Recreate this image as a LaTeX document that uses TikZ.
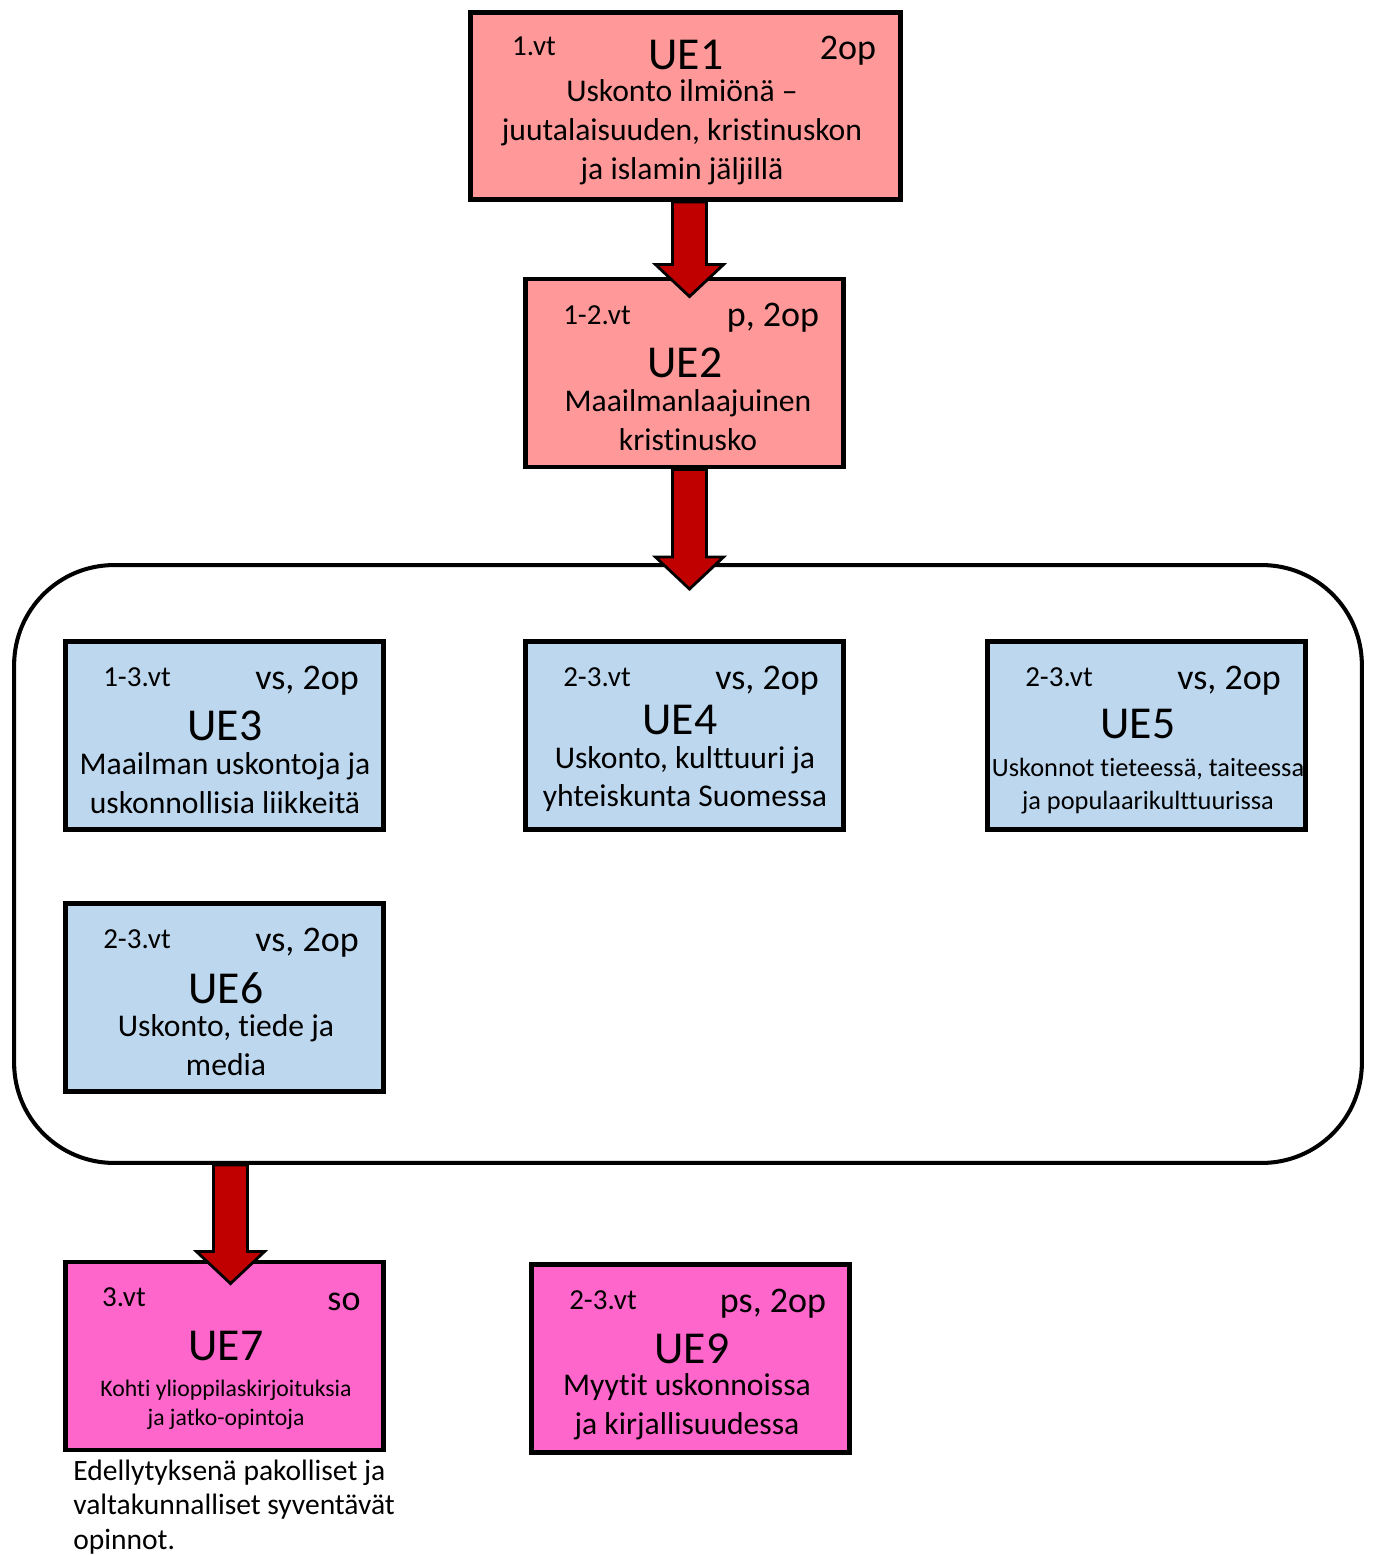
\documentclass[tikz,border=0pt]{standalone}
\usepackage{fontspec}
\setmainfont{Carlito}[Ligatures=NoCommon]
\usepackage{tikz}
\usetikzlibrary{calc}
\usetikzlibrary{positioning}
\definecolor{uered}{RGB}{255,153,153}
\definecolor{ueblue}{RGB}{189,215,238}
\definecolor{uepink}{RGB}{255,102,204}
\definecolor{arrowred}{RGB}{192,0,0}

% block arrow from #1 (top of shaft) to #2 (tip)
\newcommand{\blockarrow}[2]{%
  \filldraw[arrowbody] ($(#1)+(-17,0)$) -- ($(#2)+(-17,-32)$) -- ($(#2)+(-34,-32)$)
    -- (#2) -- ($(#2)+(34,-32)$) -- ($(#2)+(17,-32)$) -- ($(#1)+(17,0)$) -- cycle;}

\begin{document}
\begin{tikzpicture}[x=0.02cm,y=-0.02cm,
    box/.style={draw,line width=2.8pt,minimum width=6.36cm,minimum height=3.76cm,inner sep=0},
    redbox/.style={box,fill=uered},
    bluebox/.style={box,fill=ueblue},
    pinkbox/.style={box,fill=uepink},
    arrowbody/.style={fill=arrowred,draw=black,line width=1.6pt,line join=miter},
    title/.style={inner sep=0,font=\fontsize{26}{31}\selectfont},
    sem/.style={inner sep=0,font=\fontsize{16.5}{19}\selectfont},
    op/.style={inner sep=0,font=\fontsize{20.5}{24}\selectfont},
    body/.style={inner sep=0,align=center,font=\fontsize{18}{22.1}\selectfont}]
  \useasboundingbox (0,0) rectangle (1373,1555);

  % group of optional courses
  \node[draw,line width=2.3pt,rounded corners=2cm,minimum width=26.96cm,minimum height=11.96cm] (group) at (688,864) {};

  % UE1
  \node[redbox,minimum width=8.6cm,minimum height=3.74cm] (ue1) at (685.5,106) {};
  \node[sem] (ue1s) at (534,46) {1.vt};
  \node[title] (ue1t) at (686,55) {UE1};
  \node[op] (ue1o) at (848,51) {2op};
  \node[body] (ue1b) at (682,132) {Uskonto ilmiönä –\\juutalaisuuden, kristinuskon\\ja islamin jäljillä};

  % UE2
  \node[redbox] (ue2) at (684.5,373) {};
  \node[sem] (ue2s) at (597,315) {1-2.vt};
  \node[op] (ue2o) at (773,318) {p, 2op};
  \node[title] (ue2t) at (685,363) {UE2};
  \node[body] (ue2b) at (688,420) {Maailmanlaajuinen\\kristinusko};

  % UE3
  \node[bluebox] (ue3) at (224.5,735.5) {};
  \node[sem] (ue3s) at (137,677) {1-3.vt};
  \node[op] (ue3o) at (307,681) {vs, 2op};
  \node[title] (ue3t) at (225,726) {UE3};
  \node[body] (ue3b) at (225,783) {Maailman uskontoja ja\\uskonnollisia liikkeitä};

  % UE4
  \node[bluebox] (ue4) at (684.5,735.5) {};
  \node[sem] (ue4s) at (597,677) {2-3.vt};
  \node[op] (ue4o) at (767,681) {vs, 2op};
  \node[title] (ue4t) at (680,720) {UE4};
  \node[body] (ue4b) at (685,779) {Uskonto, kulttuuri ja\\yhteiskunta Suomessa};

  % UE5
  \node[bluebox] (ue5) at (1146.5,735.5) {};
  \node[sem] (ue5s) at (1059,677) {2-3.vt};
  \node[op] (ue5o) at (1229,681) {vs, 2op};
  \node[title] (ue5t) at (1138,724) {UE5};
  \node[body,font=\fontsize{15}{18.7}\selectfont] (ue5b) at (1148,786) {Uskonnot tieteessä, taiteessa\\ja populaarikulttuurissa};

  % UE6
  \node[bluebox] (ue6) at (224.5,997.5) {};
  \node[sem] (ue6s) at (137,939) {2-3.vt};
  \node[op] (ue6o) at (307,943) {vs, 2op};
  \node[title] (ue6t) at (226,988) {UE6};
  \node[body] (ue6b) at (226,1045) {Uskonto, tiede ja\\media};

  % UE7
  \node[pinkbox] (ue7) at (224.5,1356) {};
  \node[sem] (ue7s) at (124,1297) {3.vt};
  \node[op] (ue7o) at (344,1302) {so};
  \node[title] (ue7t) at (226,1346) {UE7};
  \node[body,font=\fontsize{13.5}{16.4}\selectfont] (ue7b) at (226,1405) {Kohti ylioppilaskirjoituksia\\ja jatko-opintoja};
  \node[inner sep=0,align=left,anchor=west,font=\fontsize{16.8}{19.8}\selectfont] (note) at (73,1507)
    {Edellytyksenä pakolliset ja\\valtakunnalliset syventävät\\opinnot.};

  % UE9
  \node[pinkbox] (ue9) at (690.5,1358.5) {};
  \node[sem] (ue9s) at (603,1300) {2-3.vt};
  \node[op] (ue9o) at (773,1304) {ps, 2op};
  \node[title] (ue9t) at (692,1349) {UE9};
  \node[body] (ue9b) at (687,1407) {Myytit uskonnoissa\\ja kirjallisuudessa};

  % arrows
  \coordinate (a1) at ($(ue1.south)+(4,0)$);
  \coordinate (b1) at (a1 |- {$(ue2.north)+(0,20)$});
  \blockarrow{a1}{b1}
  \coordinate (a2) at ($(ue2.south)+(5,0)$);
  \coordinate (b2) at (a2 |- {$(group.north)+(0,26)$});
  \blockarrow{a2}{b2}
  \coordinate (a3) at ($(ue7.north |- group.south)+(6,0)$);
  \coordinate (b3) at (a3 |- {$(ue7.north)+(0,24)$});
  \blockarrow{a3}{b3}
\end{tikzpicture}
\end{document}
